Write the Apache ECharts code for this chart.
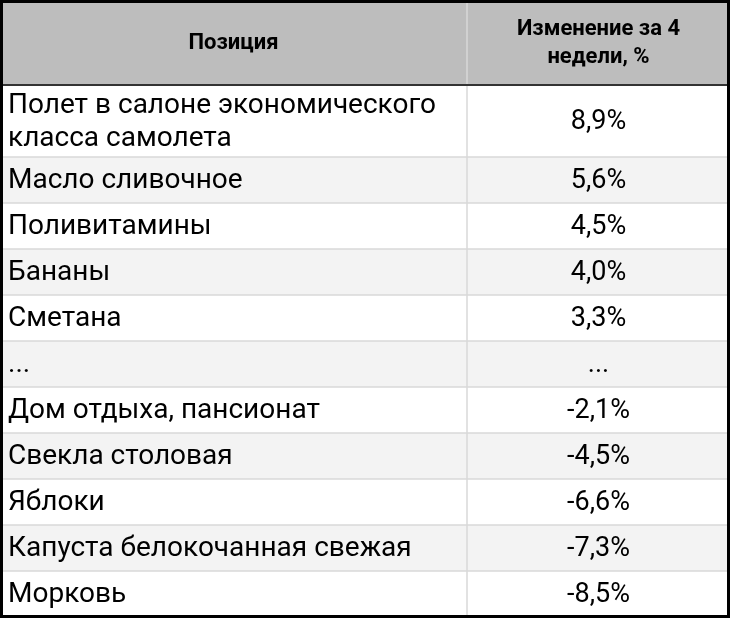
<!DOCTYPE html>
<html>
<head>
<meta charset="utf-8">
<script src="https://cdn.jsdelivr.net/npm/echarts@6/dist/echarts.min.js"></script>
<style>html,body{margin:0;padding:0;background:#fff}#chart{width:730px;height:618px}</style>
</head>
<body>
<div id="chart"></div>
<script>
var headers = ['Позиция', 'Изменение за 4\nнедели, %'];
var items = ['Полет в салоне экономического\nкласса самолета', 'Масло сливочное', 'Поливитамины', 'Бананы', 'Сметана', '...',
	'Дом отдыха, пансионат', 'Свекла столовая', 'Яблоки', 'Капуста белокочанная свежая', 'Морковь'];
var changes = [8.9, 5.6, 4.5, 4.0, 3.3, null, -2.1, -4.5, -6.6, -7.3, -8.5];

var W = 730, H = 618, colX = 467, headH = 85, firstH = 72, rowH = 46;
var font = 'Roboto, "Noto Sans", sans-serif';

function fmt(v) {
	if (v === null) return '...';
	return v.toFixed(1).replace('.', ',') + '%';
}

var els = [];
// header
els.push({type: 'rect', shape: {x: 0, y: 0, width: W, height: headH}, style: {fill: '#bdbdbd'}});
els.push({type: 'text', x: colX / 2, y: headH / 2 + 1, style: {text: headers[0], font: 'bold 22px ' + font, fill: '#000', align: 'center', verticalAlign: 'middle'}});
els.push({type: 'text', x: (colX + W) / 2, y: headH / 2 + 1, style: {text: headers[1], font: 'bold 22px ' + font, fill: '#000', align: 'center', verticalAlign: 'middle', lineHeight: 28}});

var y = headH;
for (var i = 0; i < items.length; i++) {
	var h = i == 0 ? firstH : rowH;
	els.push({type: 'rect', shape: {x: 0, y: y, width: W, height: h}, style: {fill: i % 2 ? '#f3f3f3' : '#ffffff'}});
	els.push({type: 'text', x: 8, y: y + h / 2 + 1, style: {text: items[i], font: '28px ' + font, fill: '#000', align: 'left', verticalAlign: 'middle', lineHeight: 33}});
	els.push({type: 'text', x: (colX + W) / 2, y: y + h / 2 + 1, style: {text: fmt(changes[i]), font: '27px ' + font, fill: '#000', align: 'center', verticalAlign: 'middle'}});
	if (i > 0) els.push({type: 'line', shape: {x1: 0, y1: y, x2: W, y2: y}, style: {stroke: '#d9d9d9', lineWidth: 1.5}});
	y += h;
}
// column divider and header line
els.push({type: 'line', shape: {x1: colX, y1: 0, x2: colX, y2: H}, style: {stroke: '#d9d9d9', lineWidth: 1.5}});
els.push({type: 'line', shape: {x1: 0, y1: headH, x2: W, y2: headH}, style: {stroke: '#333', lineWidth: 2}});
// outer border
els.push({type: 'rect', shape: {x: 1.5, y: 1.5, width: W - 3, height: H - 3}, style: {fill: null, stroke: '#000', lineWidth: 3}});

var myChart = echarts.init(document.getElementById('chart'));
myChart.setOption({animation: false, graphic: {elements: els}});
</script>
</body>
</html>
